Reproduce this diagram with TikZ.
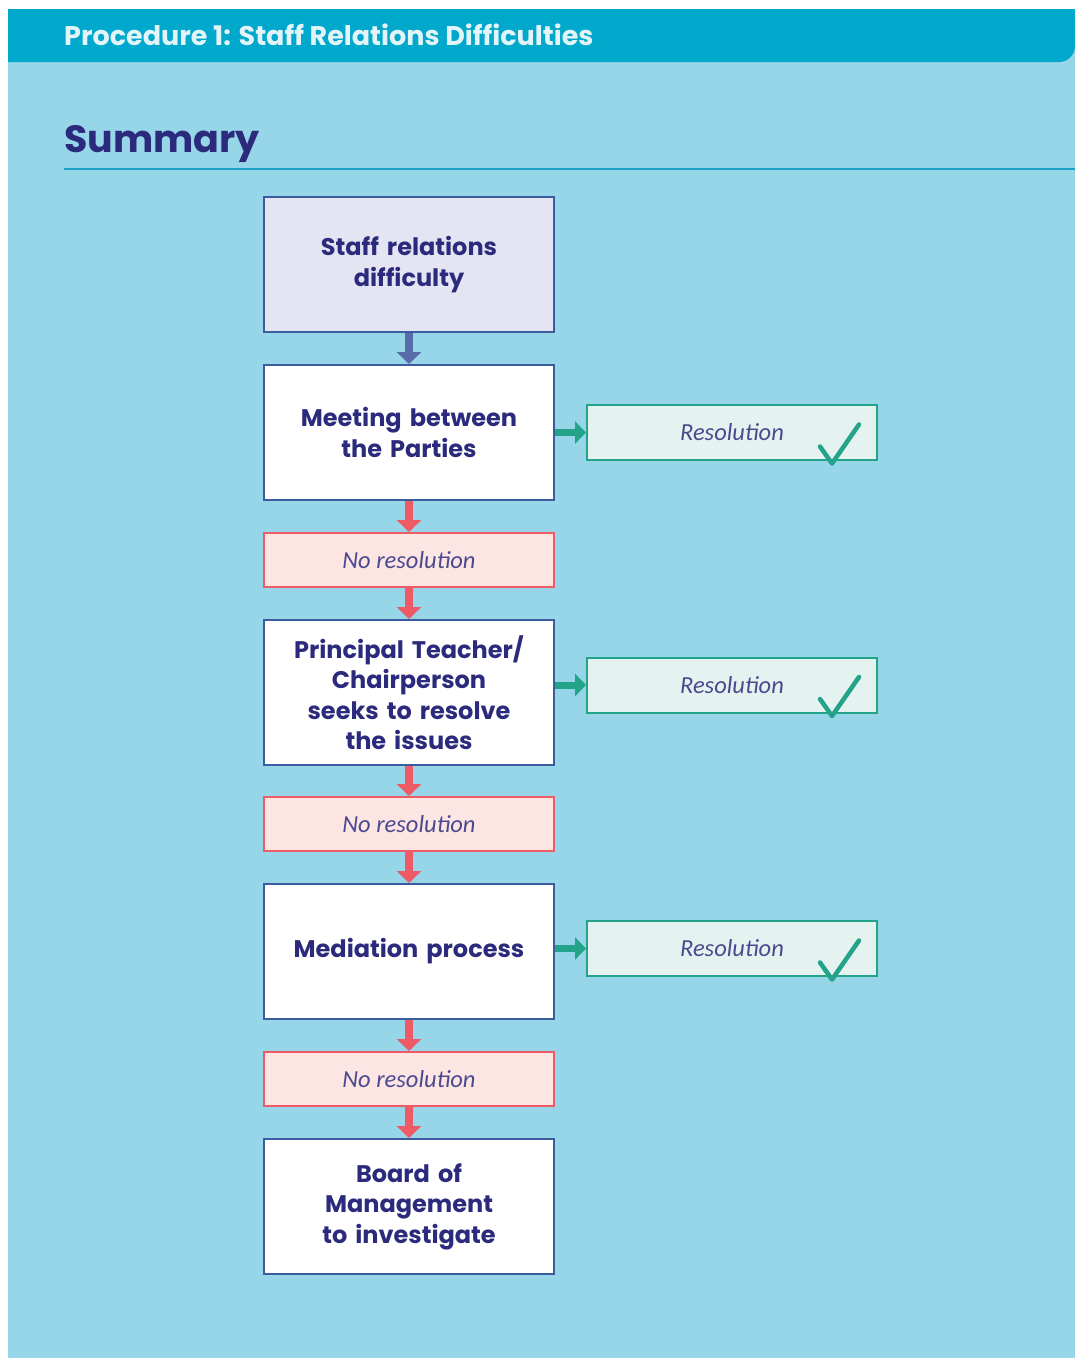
\documentclass[tikz,border=0pt]{standalone}
\usepackage{fontspec}
\setmainfont{Poppins}
\newfontfamily\notefont{Carlito}
\usetikzlibrary{arrows.meta}

\definecolor{pagebg}{HTML}{97D5E8}
\definecolor{barcol}{HTML}{00A8CC}
\definecolor{headtxt}{HTML}{E2F4F8}
\definecolor{navy}{HTML}{2B2A7C}
\definecolor{rulecol}{HTML}{1BA0C6}
\definecolor{boxline}{HTML}{3B5C9E}
\definecolor{startfill}{HTML}{E4E4F2}
\definecolor{startarr}{HTML}{5A6BAA}
\definecolor{redline}{HTML}{EE5A66}
\definecolor{redfill}{HTML}{FCE5E3}
\definecolor{tealline}{HTML}{22A38A}
\definecolor{tealfill}{HTML}{E4F3EF}

\tikzset{
  stage/.style = {draw=boxline, line width=2pt, fill=white, minimum width=290, minimum height=135,
                  text width=280, align=center, inner sep=0pt, text=navy,
                  font=\bfseries\fontsize{24}{30.5}\selectfont},
  nores/.style = {draw=redline, line width=2pt, fill=redfill, minimum width=290, minimum height=54,
                  inner sep=0pt, text=navy!85, font=\notefont\itshape\fontsize{24.5}{28}\selectfont},
  resbox/.style = {draw=tealline, line width=2pt, fill=tealfill, minimum width=290, minimum height=55,
                  inner sep=0pt, text=navy!85, font=\notefont\itshape\fontsize{24.5}{28}\selectfont},
  downarr/.style = {draw=redline, line width=8pt, -{Triangle[width=24pt,length=12pt]}},
  sidearr/.style = {draw=tealline, line width=7pt, -{Triangle[width=22pt,length=11pt]}},
  tick/.style = {draw=tealline, line width=4.5pt, line cap=round, line join=round}
}

\begin{document}
\begin{tikzpicture}[x=1pt, y=-1pt]
  \useasboundingbox (0,0) rectangle (1075,1358);
  \fill[white] (0,0) rectangle (1075,1358);
  \fill[pagebg] (8,9) rectangle (1075,1358);
  \begin{scope}
    \clip (8,9) rectangle (1075,1358);
    \fill[barcol, rounded corners=16] (-20,-20) rectangle (1075,62);
  \end{scope}

  % header and title
  \node[anchor=base west, inner sep=0pt, text=headtxt, font=\bfseries\fontsize{27}{30}\selectfont]
    (head) at (64,45) {Procedure 1: Staff Relations Difficulties};
  \node[anchor=base west, inner sep=0pt, text=navy, font=\bfseries\fontsize{38}{44}\selectfont]
    (title) at (64,152) {Summary};
  \draw[rulecol, line width=2pt] (64,169) -- (1075,169);

  % main column
  \node [stage, fill=startfill] (s1) at (409,264.5) {Staff relations\\difficulty};
  \node [stage] (s2) at (409,432.5) {Meeting between\\the Parties};
  \node [nores] (n1) at (409,560) {No resolution};
  \node [stage, minimum height=145] (s3) at (409,692.5) {Principal Teacher/\\Chairperson\\seeks to resolve\\the issues};
  \node [nores] (n2) at (409,824) {No resolution};
  \node [stage] (s4) at (409,951.5) {Mediation process};
  \node [nores] (n3) at (409,1079) {No resolution};
  \node [stage] (s5) at (409,1206.5) {Board of\\Management\\to investigate};

  % resolutions
  \node [resbox] (r1) at (732,432.5) {Resolution};
  \node [resbox] (r2) at (732,685) {Resolution};
  \node [resbox] (r3) at (732,948.5) {Resolution};

  \draw[downarr, draw=startarr] (s1) -- (s2);
  \draw[downarr] (s2) -- (n1);
  \draw[downarr] (n1) -- (s3);
  \draw[downarr] (s3) -- (n2);
  \draw[downarr] (n2) -- (s4);
  \draw[downarr] (s4) -- (n3);
  \draw[downarr] (n3) -- (s5);

  \draw[sidearr] (s2.east) -- (r1.west);
  \draw[sidearr] (s3.east |- r2.west) -- (r2.west);
  \draw[sidearr] (s4.east |- r3.west) -- (r3.west);

  % ticks
  \foreach \r in {r1,r2,r3} {
    \draw[tick] ([xshift=-58pt,yshift=-14pt]\r.east) -- ([xshift=-46pt,yshift=-31pt]\r.east)
      -- ([xshift=-19pt,yshift=8pt]\r.east);
  }
\end{tikzpicture}
\end{document}
